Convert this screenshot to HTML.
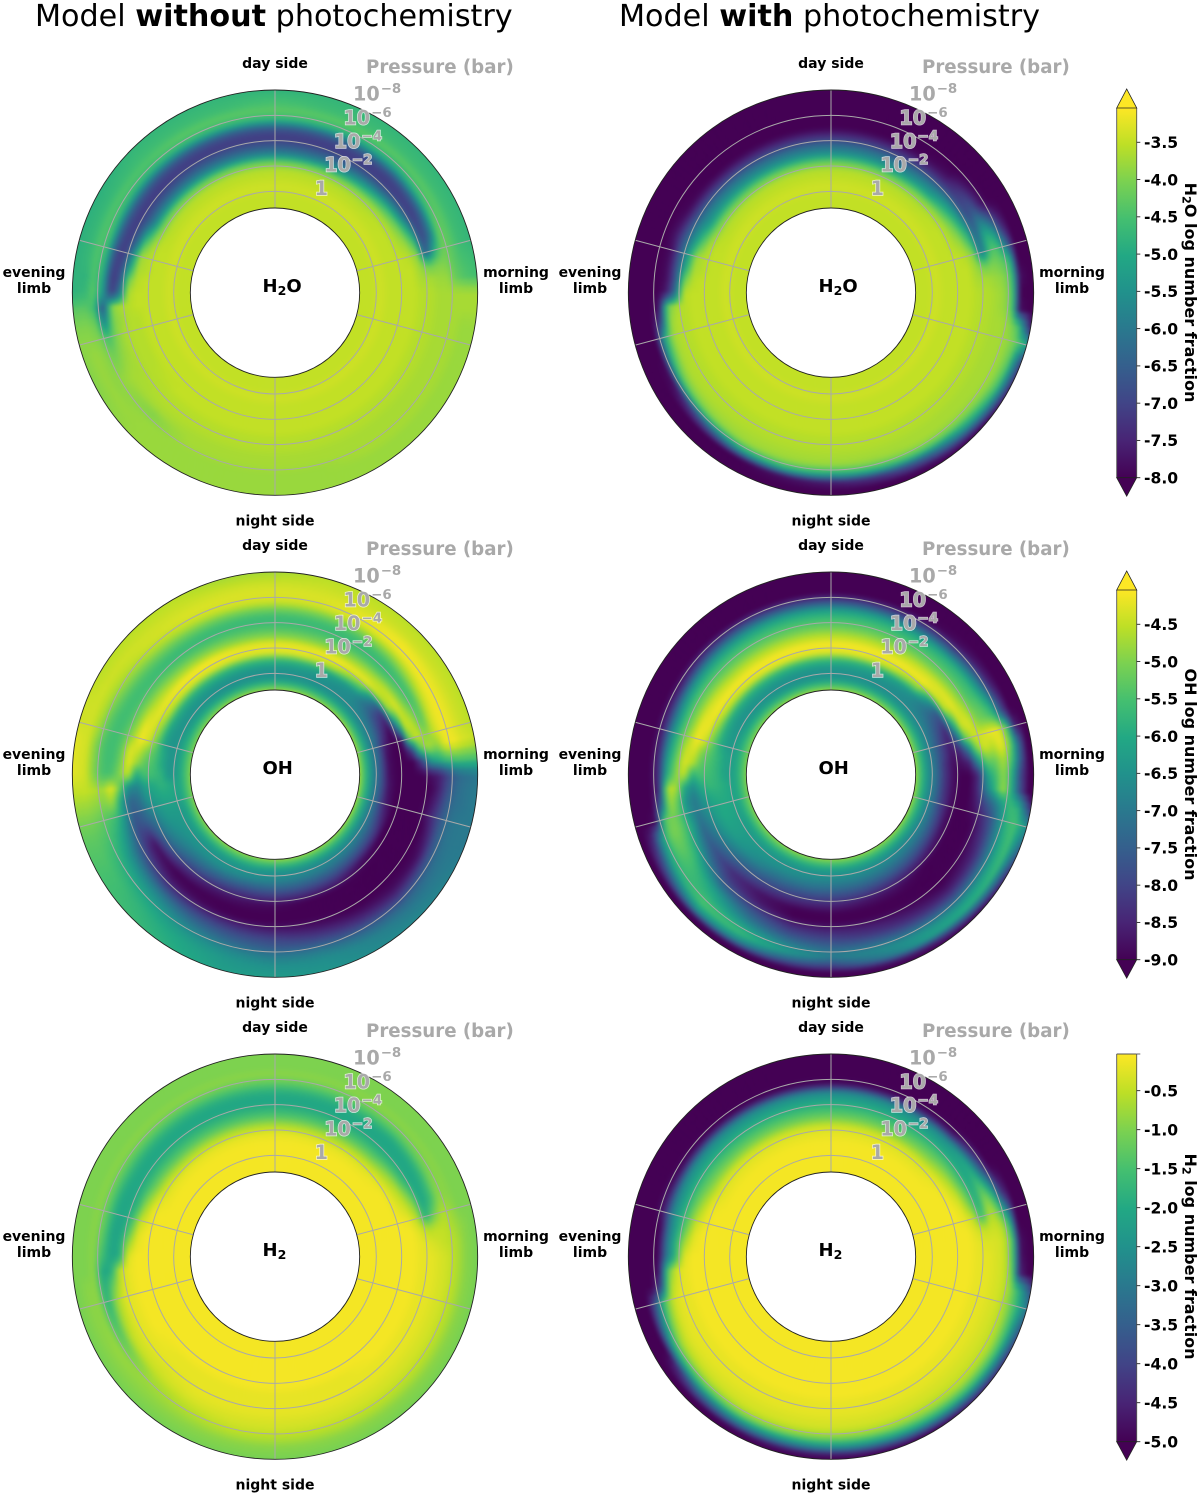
<!DOCTYPE html>
<html lang="en">
<head>
<meta charset="utf-8">
<title>Model without and with photochemistry</title>
<style>
html,body{margin:0;padding:0;background:#fff;}
#figure{display:block;width:1200px;height:1495px;}
text{font-family:"DejaVu Sans","Liberation Sans",sans-serif;}
</style>
</head>
<body>
<svg id="figure" xmlns="http://www.w3.org/2000/svg" width="1200" height="1495" viewBox="0 0 1200 1495">
  <text x="35" y="26" font-size="30.2" fill="#000">Model <tspan font-weight="700">without</tspan> photochemistry</text>
  <text x="619" y="26" font-size="30.2" fill="#000">Model <tspan font-weight="700">with</tspan> photochemistry</text>
  <defs>
    <linearGradient id="viridis-ramp" x1="0" y1="1" x2="0" y2="0"></linearGradient>
    <filter id="cell-smooth" x="-5%" y="-5%" width="110%" height="110%" color-interpolation-filters="sRGB">
      <feGaussianBlur stdDeviation="2"></feGaussianBlur>
    </filter>
  </defs>
  <g id="panels"></g>
  <g id="colorbars"></g>
</svg>
<script>
// Sampled longitudes (degrees clockwise from the sub-stellar point, top of each disc)
const longitudes = [0,15,30,45,60,70,75,80,85,90,95,100,105,110,120,135,150,165,180,195,210,225,240,250,255,260,265,270,275,280,285,290,300,315,330,345];
// Sampled pressure levels, log10(bar), deep to high altitude
const logPressures = [1,0.33,-0.33,-1,-1.67,-2.33,-3,-3.67,-4.33,-5,-5.67,-6.33,-7,-7.67];
// Each row = one longitude, each entry = -10 x log10(number fraction) at one pressure level
const h2oNoPhoto = [
[35,35,34,35,36,42,58,67,72,66,48,43,45,47],
[35,35,34,35,36,42,58,67,72,66,48,43,46,47],
[35,35,34,35,36,41,56,66,72,67,50,43,46,47],
[35,35,34,35,36,39,50,64,72,68,50,43,46,47],
[35,35,34,35,35,37,43,58,72,66,46,43,46,47],
[35,35,34,35,35,36,38,46,70,62,42,43,46,47],
[35,35,34,35,35,35,36,40,68,50,41,43,46,47],
[35,35,34,35,35,35,35,38,42,40,40,43,45,46],
[35,35,34,35,35,35,35,37,37,38,38,42,44,45],
[35,35,34,35,35,35,35,36,36,37,37,37,37,37],
[35,35,34,35,35,35,35,36,36,37,37,37,37,37],
[35,35,34,35,35,35,35,36,36,37,37,37,38,38],
[35,35,34,35,35,35,35,36,36,37,37,37,38,38],
[35,35,34,35,35,35,35,36,36,37,37,37,38,38],
[35,35,34,35,35,35,35,36,36,37,37,37,38,38],
[35,35,34,35,35,35,35,36,36,37,37,37,38,38],
[35,35,34,35,35,35,35,36,36,37,37,37,38,38],
[35,35,34,35,35,35,35,36,36,37,37,38,38,38],
[35,35,34,35,35,35,35,36,36,37,37,38,38,38],
[35,35,34,35,35,35,35,36,36,37,37,38,38,38],
[35,35,34,35,35,35,35,36,36,37,37,38,38,38],
[35,35,34,35,35,35,35,36,36,37,40,38,38,38],
[35,35,34,35,35,35,36,36,37,37,38,39,38,39],
[35,35,34,35,35,35,36,36,37,39,42,39,38,39],
[35,35,34,35,35,35,36,36,37,40,46,40,39,39],
[35,35,34,35,35,35,36,36,38,40,58,42,40,40],
[35,35,34,35,35,35,35,36,37,40,68,46,43,43],
[35,35,34,35,35,35,35,37,62,72,52,43,47,48],
[35,35,34,35,35,35,36,42,68,72,50,44,48,48],
[35,35,34,35,35,36,37,52,70,70,48,44,47,48],
[35,35,34,35,35,36,38,58,72,68,47,44,47,48],
[35,35,34,35,35,37,44,64,72,66,46,44,47,48],
[35,35,34,35,36,42,58,68,72,65,47,44,47,48],
[35,35,34,35,36,42,58,68,72,66,48,44,46,47],
[35,35,34,35,36,42,58,67,72,66,48,43,46,47],
[35,35,34,35,36,42,58,67,72,66,48,43,46,47]
];
const h2oWithPhoto = [
[35,35,34,35,36,42,55,63,73,80,80,80,80,80],
[35,35,34,35,36,42,55,63,73,80,80,80,80,80],
[35,35,34,35,36,42,55,63,73,80,80,80,80,80],
[35,35,34,35,36,40,52,60,72,78,80,80,80,80],
[35,35,34,35,35,37,43,54,69,66,76,80,80,80],
[35,35,34,35,35,36,38,46,64,48,52,70,80,80],
[35,35,34,35,35,35,36,40,62,44,45,60,80,80],
[35,35,34,35,35,35,35,38,42,40,42,46,80,80],
[35,35,34,35,35,35,35,37,37,38,39,44,78,80],
[35,35,34,35,35,35,35,36,36,37,38,43,80,80],
[35,35,34,35,35,35,35,36,36,37,38,42,78,80],
[35,35,34,35,35,35,35,36,36,37,37,39,44,65],
[35,35,34,35,35,35,35,36,36,37,37,38,41,48],
[35,35,34,35,35,35,35,36,36,37,37,38,42,60],
[35,35,34,35,35,35,35,36,36,37,37,38,44,64],
[35,35,34,35,35,35,35,36,36,37,37,40,52,72],
[35,35,34,35,35,35,35,36,36,37,37,42,64,78],
[35,35,34,35,35,35,35,36,36,37,38,46,72,80],
[35,35,34,35,35,35,35,36,36,37,38,50,76,80],
[35,35,34,35,35,35,35,36,36,37,38,48,78,80],
[35,35,34,35,35,35,35,36,36,37,38,52,80,80],
[35,35,34,35,35,35,35,36,36,37,40,65,80,80],
[35,35,34,35,35,35,35,36,36,37,44,78,80,80],
[35,35,34,35,35,35,35,36,36,38,50,80,80,80],
[35,35,34,35,35,35,35,36,36,38,52,80,80,80],
[35,35,34,35,35,35,35,36,36,39,70,80,80,80],
[35,35,34,35,35,35,35,36,37,42,78,80,80,80],
[35,35,34,35,35,35,35,36,62,76,80,80,80,80],
[35,35,34,35,35,35,36,42,66,78,80,80,80,80],
[35,35,34,35,35,36,37,50,66,78,80,80,80,80],
[35,35,34,35,35,36,38,52,66,78,80,80,80,80],
[35,35,34,35,35,37,44,56,66,76,80,80,80,80],
[35,35,34,35,36,41,53,60,70,79,80,80,80,80],
[35,35,34,35,36,42,54,62,72,80,80,80,80,80],
[35,35,34,35,36,42,55,63,73,80,80,80,80,80],
[35,35,34,35,36,42,55,63,73,80,80,80,80,80]
];
const ohNoPhoto = [
[54,65,65,58,43,42,50,55,57,52,44,43,44,46],
[54,65,65,59,43,42,50,55,57,52,44,43,44,45],
[54,65,66,62,46,41,49,55,57,52,43,42,44,45],
[54,65,67,66,54,42,47,55,57,50,42,41,44,45],
[54,66,70,78,82,48,43,52,56,46,41,42,44,45],
[54,66,72,82,90,72,44,46,54,44,41,42,44,45],
[54,66,74,86,90,88,50,44,50,45,41,42,44,45],
[54,66,74,88,90,90,80,52,46,50,42,41,43,44],
[54,66,75,88,90,90,90,80,64,60,56,54,54,54],
[54,66,75,88,90,90,90,90,88,86,80,74,72,71],
[54,66,75,87,90,90,90,90,90,86,78,73,71,70],
[54,66,75,87,90,90,90,90,89,84,76,72,71,70],
[54,66,75,86,90,90,90,90,88,82,75,71,70,70],
[54,66,74,84,90,90,90,90,90,84,75,71,70,70],
[54,66,72,80,90,90,90,90,90,88,78,72,70,69],
[54,65,70,78,88,90,90,90,90,88,82,74,70,68],
[54,65,69,76,84,90,90,90,90,86,80,73,68,67],
[54,65,68,75,83,90,90,90,88,83,77,70,66,65],
[54,65,67,74,82,89,90,90,86,80,76,70,66,64],
[54,64,66,74,82,88,90,90,84,78,73,67,64,63],
[54,64,65,72,80,87,90,89,82,75,69,64,61,60],
[54,64,65,70,76,84,90,87,80,70,64,60,58,57],
[54,63,64,66,70,78,88,82,74,66,60,57,55,55],
[54,63,63,63,66,72,76,78,68,60,56,54,53,53],
[54,62,62,62,64,68,74,76,64,56,54,52,51,51],
[54,62,60,60,62,65,72,74,62,48,50,49,48,48],
[54,62,60,58,60,62,68,66,52,42,48,46,45,45],
[54,62,65,58,56,55,60,44,50,55,55,50,44,43],
[54,62,65,60,55,53,48,42,52,56,55,50,44,43],
[54,62,65,60,54,50,44,43,53,56,55,50,44,43],
[54,62,65,62,52,44,41,48,54,56,54,48,44,44],
[54,62,65,62,50,43,42,50,55,56,53,47,44,44],
[54,63,65,60,46,42,46,52,56,55,50,46,44,45],
[54,64,65,59,44,41,48,54,57,53,47,44,44,45],
[54,65,65,58,43,41,49,55,57,52,45,43,44,45],
[54,65,65,58,43,42,50,55,57,52,44,43,44,46]
];
const ohWithPhoto = [
[54,65,65,58,43,41,46,52,56,62,78,90,90,90],
[54,65,65,59,43,41,46,52,56,62,78,90,90,90],
[54,65,66,61,45,41,46,52,56,62,78,90,90,90],
[54,65,67,65,50,41,44,51,55,60,76,88,90,90],
[54,65,69,74,76,46,42,48,54,57,68,84,90,90],
[54,65,71,78,85,66,44,43,50,52,56,76,90,90],
[54,65,72,80,86,76,52,44,44,42,42,52,85,90],
[54,65,72,80,87,85,72,50,43,46,41,50,72,90],
[54,65,72,82,88,88,85,66,52,52,46,54,74,90],
[54,65,72,82,88,90,90,84,62,56,48,60,80,90],
[54,65,72,82,88,90,90,84,68,58,47,60,78,90],
[54,65,72,82,88,90,90,86,78,72,64,56,58,74],
[54,65,72,81,88,90,90,88,84,78,68,58,55,62],
[54,65,71,80,88,90,90,90,86,80,70,60,55,66],
[54,65,70,78,87,90,90,90,88,84,74,63,56,74],
[54,65,69,76,84,90,90,90,90,86,78,66,58,80],
[54,64,68,74,82,88,90,90,88,84,76,65,62,86],
[54,64,67,73,80,87,90,90,86,82,74,66,70,88],
[54,64,67,72,79,85,90,90,85,80,74,68,78,90],
[54,64,66,71,78,84,90,90,84,78,70,62,74,90],
[54,64,65,70,76,82,88,86,78,72,64,56,66,90],
[54,63,64,66,72,78,84,80,72,62,58,54,64,90],
[54,63,62,62,66,72,76,68,58,54,55,60,76,90],
[54,62,61,60,63,68,72,62,54,50,52,66,84,90],
[54,62,60,60,62,66,70,64,54,50,54,88,90,90],
[54,62,60,59,60,64,70,65,52,47,76,90,90,90],
[54,62,60,58,57,60,66,60,46,46,84,90,90,90],
[54,62,62,58,56,55,58,44,50,60,84,90,90,90],
[54,62,62,58,55,53,46,43,52,62,84,90,90,90],
[54,62,62,58,54,50,43,45,54,64,84,90,90,90],
[54,62,64,60,52,44,41,48,55,66,84,90,90,90],
[54,62,64,60,50,42,42,50,56,68,84,90,90,90],
[54,63,65,60,46,41,44,51,56,66,84,90,90,90],
[54,64,65,59,44,41,46,52,56,64,80,90,90,90],
[54,65,65,58,43,41,46,52,56,63,78,90,90,90],
[54,65,65,58,43,41,46,52,56,62,78,90,90,90]
];
const h2NoPhoto = [
[1,1,1,1,2,6,13,18,21,19,13,9,10,10],
[1,1,1,1,2,6,13,18,21,19,13,9,10,10],
[1,1,1,1,2,6,13,18,21,19,13,9,10,10],
[1,1,1,1,2,5,12,18,21,20,13,9,10,10],
[1,1,1,1,1,3,7,16,21,19,11,9,10,10],
[1,1,1,1,1,2,4,9,21,17,9,9,10,10],
[1,1,1,1,1,1,2,6,19,11,6,8,10,10],
[1,1,1,1,1,1,1,3,6,5,5,7,9,10],
[1,1,1,1,1,1,1,2,3,4,5,6,9,10],
[1,1,1,1,1,1,1,2,2,3,4,6,9,10],
[1,1,1,1,1,1,1,2,2,3,4,6,9,10],
[1,1,1,1,1,1,1,2,2,3,4,6,9,10],
[1,1,1,1,1,1,1,2,2,3,4,6,9,10],
[1,1,1,1,1,1,1,2,2,3,4,6,9,10],
[1,1,1,1,1,1,1,2,2,3,4,6,9,10],
[1,1,1,1,1,1,1,2,2,3,4,6,9,10],
[1,1,1,1,1,1,2,2,2,3,4,6,9,10],
[1,1,1,1,1,1,2,2,2,3,4,6,9,10],
[1,1,1,1,1,1,2,2,2,3,4,6,9,10],
[1,1,1,1,1,1,2,2,2,3,4,6,9,10],
[1,1,1,1,1,1,2,2,2,3,5,7,9,10],
[1,1,1,1,1,1,2,2,3,4,7,8,9,10],
[1,1,1,1,1,1,1,2,3,5,13,8,9,10],
[1,1,1,1,1,1,1,2,3,7,17,9,9,10],
[1,1,1,1,1,1,1,2,3,8,19,9,9,10],
[1,1,1,1,1,1,1,2,4,12,20,9,9,10],
[1,1,1,1,1,1,1,2,5,19,21,9,10,10],
[1,1,1,1,1,1,1,3,20,21,16,9,10,10],
[1,1,1,1,1,1,2,8,20,21,14,9,10,10],
[1,1,1,1,1,1,3,13,21,21,13,9,10,10],
[1,1,1,1,1,2,5,16,21,20,13,9,10,10],
[1,1,1,1,1,2,8,18,21,20,13,9,10,10],
[1,1,1,1,2,5,12,18,21,19,13,9,10,10],
[1,1,1,1,2,6,13,18,21,19,13,9,10,10],
[1,1,1,1,2,6,13,18,21,19,13,9,10,10],
[1,1,1,1,2,6,13,18,21,19,13,9,10,10]
];
const h2WithPhoto = [
[1,1,1,1,2,4,11,16,21,27,49,50,50,50],
[1,1,1,1,2,4,11,16,21,27,49,50,50,50],
[1,1,1,1,2,4,11,16,21,27,49,50,50,50],
[1,1,1,1,2,4,10,15,21,26,48,50,50,50],
[1,1,1,1,1,2,6,14,21,18,35,50,50,50],
[1,1,1,1,1,1,3,10,20,8,16,40,50,50],
[1,1,1,1,1,1,2,5,17,5,10,26,50,50],
[1,1,1,1,1,1,1,3,5,4,5,15,50,50],
[1,1,1,1,1,1,1,2,3,3,4,11,48,50],
[1,1,1,1,1,1,1,2,2,3,4,12,48,50],
[1,1,1,1,1,1,1,2,2,3,4,10,45,50],
[1,1,1,1,1,1,1,2,2,3,4,8,17,30],
[1,1,1,1,1,1,1,2,2,3,4,8,15,25],
[1,1,1,1,1,1,1,2,2,3,4,7,15,28],
[1,1,1,1,1,1,1,2,2,3,4,6,14,32],
[1,1,1,1,1,1,1,2,2,3,4,6,15,35],
[1,1,1,1,1,1,1,2,2,3,4,8,18,40],
[1,1,1,1,1,1,1,2,2,3,4,9,22,43],
[1,1,1,1,1,1,1,2,2,3,4,10,24,46],
[1,1,1,1,1,1,1,2,2,3,4,10,26,47],
[1,1,1,1,1,1,1,2,2,3,4,10,28,49],
[1,1,1,1,1,1,1,2,2,3,5,14,34,50],
[1,1,1,1,1,1,1,2,2,3,7,20,50,50],
[1,1,1,1,1,1,1,2,2,4,12,30,50,50],
[1,1,1,1,1,1,1,2,2,5,15,36,50,50],
[1,1,1,1,1,1,1,2,3,8,40,50,50,50],
[1,1,1,1,1,1,1,2,4,14,48,50,50,50],
[1,1,1,1,1,1,1,3,18,30,50,50,50,50],
[1,1,1,1,1,1,2,7,18,30,50,50,50,50],
[1,1,1,1,1,1,3,11,20,30,50,50,50,50],
[1,1,1,1,1,2,5,13,20,28,46,50,50,50],
[1,1,1,1,1,2,7,14,21,28,46,50,50,50],
[1,1,1,1,2,4,10,15,21,27,48,50,50,50],
[1,1,1,1,2,4,11,16,21,27,49,50,50,50],
[1,1,1,1,2,4,11,16,21,27,49,50,50,50],
[1,1,1,1,2,4,11,16,21,27,49,50,50,50]
];
// Colour-bar tick labels
const h2oTicks = ["-3.5","-4.0","-4.5","-5.0","-5.5","-6.0","-6.5","-7.0","-7.5","-8.0"];
const ohTicks = ["-4.5","-5.0","-5.5","-6.0","-6.5","-7.0","-7.5","-8.0","-8.5","-9.0"];
const h2Ticks = ["-0.5","-1.0","-1.5","-2.0","-2.5","-3.0","-3.5","-4.0","-4.5","-5.0"];
const pressureTickExponents = ["-8","-6","-4","-2",""];
const pressureTickValues = [-8,-6,-4,-2,0];
const spokeLongitudes = [0,75,105,180,255,285];
const viridisStops = ["#440154","#482475","#414487","#355f8d","#2a788e","#21918c","#22a884","#44bf70","#7ad151","#bddf26","#fde725"];

const SVGNS = "http://www.w3.org/2000/svg";
const R_OUT = 202.67, R_IN = 84.67;
const rowCentersY = [292.67, 774.67, 1256.67];
const colCentersX = [275, 831];

function el(tag, attrs, parent, text) {
  const n = document.createElementNS(SVGNS, tag);
  for (const k in attrs) n.setAttribute(k, attrs[k]);
  if (text !== undefined) n.textContent = text;
  if (parent) parent.appendChild(n);
  return n;
}
function rScale(logP) { return 101.33 - 12.67 * logP; }
function polar(cx, cy, r, lon) {
  const a = lon * Math.PI / 180;
  return [cx + r * Math.sin(a), cy - r * Math.cos(a)];
}
function hexRgb(h) { return [1,3,5].map(i => parseInt(h.substr(i,2),16)); }
const stopRgb = viridisStops.map(hexRgb);
function viridis(t) {
  t = Math.max(0, Math.min(1, t)) * (stopRgb.length - 1);
  const i = Math.min(stopRgb.length - 2, Math.floor(t)), f = t - i;
  const c = stopRgb[i].map((v, k) => Math.round(v + (stopRgb[i + 1][k] - v) * f));
  return "rgb(" + c.join(",") + ")";
}
function sample(grid, lon, logP) {
  lon = ((lon % 360) + 360) % 360;
  let a = longitudes.length - 1, b = 0, la = longitudes[a], lb = 360;
  for (let i = 0; i < longitudes.length; i++) {
    const next = i + 1 < longitudes.length ? longitudes[i + 1] : 360;
    if (lon >= longitudes[i] && lon <= next) {
      a = i; b = (i + 1) % longitudes.length; la = longitudes[i]; lb = next; break;
    }
  }
  const ft = lb === la ? 0 : (lon - la) / (lb - la);
  let k = 0;
  const n = logPressures.length;
  if (logP >= logPressures[0]) { k = 0; }
  else if (logP <= logPressures[n - 1]) { k = n - 2; }
  else { while (k < n - 2 && logP < logPressures[k + 1]) k++; }
  const fr = (logPressures[k] - logP) / (logPressures[k] - logPressures[k + 1]);
  const va = grid[a][k] + (grid[a][k + 1] - grid[a][k]) * fr;
  const vb = grid[b][k] + (grid[b][k + 1] - grid[b][k]) * fr;
  return -(va + (vb - va) * ft) / 10;
}

// gradient stops for colour bars
const ramp = document.getElementById("viridis-ramp");
viridisStops.forEach((c, i) => {
  el("stop", {offset: (i / (viridisStops.length - 1)), "stop-color": c}, ramp);
});
const svgDefs = document.querySelector("#figure defs");

function drawPanel(root, cfg) {
  const g = el("g", {}, root);
  
  
  const clip = el("clipPath", {id: "clip-" + cfg.key}, svgDefs);
  el("circle", {cx: cfg.cx, cy: cfg.cy, r: R_OUT}, clip);
  const clipped = el("g", {"clip-path": "url(#clip-" + cfg.key + ")"}, g);
  
  
  const cells = el("g", {filter: "url(#cell-smooth)"}, clipped);
  
  
  const dLon = 2, stepR = 4;
  const rStart = R_IN - 8, rEnd = R_OUT + 10;
  for (let lon = 0; lon < 360; lon += dLon) {
    for (let r0 = rStart; r0 < rEnd; r0 += stepR) {
      const r1 = r0 + stepR;
      const logP = (101.33 - (r0 + r1) / 2) / 12.67;
      const v = sample(cfg.grid, lon + dLon / 2, logP);
      const col = viridis((v - cfg.vmin) / (cfg.vmax - cfg.vmin));
      const p = [polar(cfg.cx, cfg.cy, r0, lon), polar(cfg.cx, cfg.cy, r1, lon), polar(cfg.cx, cfg.cy, r1, lon + dLon), polar(cfg.cx, cfg.cy, r0, lon + dLon)];
      const d = "M" + p.map(q => q[0].toFixed(2) + " " + q[1].toFixed(2)).join("L") + "Z";
      const cell = el("path", {d: d, fill: col, stroke: col, "stroke-width": 0.6}, cells);
      
      
    }
  }
  // grid rings
  pressureTickValues.forEach((lp, i) => {
    if (i === 0) return;
    const ring = el("circle", {cx: cfg.cx, cy: cfg.cy, r: rScale(lp), fill: "none", stroke: "#a9a9a9", "stroke-width": 1}, g);
    
    
  });
  spokeLongitudes.forEach(lon => {
    const a = polar(cfg.cx, cfg.cy, R_IN, lon), b = polar(cfg.cx, cfg.cy, R_OUT, lon);
    const sp = el("line", {x1: a[0], y1: a[1], x2: b[0], y2: b[1], stroke: "#a9a9a9", "stroke-width": 1}, g);
    
    
  });
  const outer = el("circle", {cx: cfg.cx, cy: cfg.cy, r: R_OUT, fill: "none", stroke: "#222", "stroke-width": 0.9}, g);
  
  
  const inner = el("circle", {cx: cfg.cx, cy: cfg.cy, r: R_IN, fill: "#fff", stroke: "#222", "stroke-width": 0.9}, g);
  
  

  // species label in the centre
  const sp = el("text", {x: cfg.cx - 12.5, y: cfg.cy - 0.5, "font-size": 18, "font-weight": 700, fill: "#000"}, g);
  
  
  cfg.label.forEach(part => {
    el("tspan", part.sub ? {"font-size": 12.6, dy: 2.8} : {dy: part.after ? -2.8 : 0}, sp, part.t);
  });

  // side labels
  const sideFont = {"font-size": 14, "font-weight": 700, fill: "#000", "text-anchor": "middle"};
  const day = el("text", Object.assign({x: cfg.cx, y: cfg.cy - 224.5}, sideFont), g, "day side");
  
  
  const night = el("text", Object.assign({x: cfg.cx, y: cfg.cy + 233}, sideFont), g, "night side");
  
  
  const eve = el("text", Object.assign({x: cfg.cx - 241, y: cfg.cy - 15.5}, sideFont), g);
  
  
  el("tspan", {x: cfg.cx - 241, dy: 0}, eve, "evening");
  el("tspan", {x: cfg.cx - 241, dy: 16}, eve, "limb");
  const morn = el("text", Object.assign({x: cfg.cx + 241, y: cfg.cy - 15.5}, sideFont), g);
  
  
  el("tspan", {x: cfg.cx + 241, dy: 0}, morn, "morning");
  el("tspan", {x: cfg.cx + 241, dy: 16}, morn, "limb");

  // pressure axis
  const pt = el("text", {x: cfg.cx + 91, y: cfg.cy - 219.8, "font-size": 18.2, "font-weight": 700, fill: "#a9a9a9"}, g, "Pressure (bar)");
  
  
  pressureTickValues.forEach((lp, i) => {
    const x = cfg.cx + 78 - i * 9.6;
    const y = cfg.cy - 192 + i * 23.6;
    const attrs = {x: x, y: y, "font-size": 19.2, "font-weight": 700, fill: "#a9a9a9"};
    if (i > 0) {
      attrs.stroke = "#fff"; attrs["stroke-width"] = 1.4; attrs["paint-order"] = "stroke"; attrs["stroke-opacity"] = 0.75;
    }
    const t = el("text", attrs, g);
    
    
    if (pressureTickExponents[i] === "") {
      el("tspan", {}, t, "1");
    } else {
      el("tspan", {}, t, "10");
      el("tspan", {"font-size": 13.4, dy: -7.5, dx: 1}, t, pressureTickExponents[i].replace("-", "\u2212"));
    }
  });
}

function drawColorbar(root, cfg) {
  const g = el("g", {}, root);
  
  
  const x0 = 1116.7, x1 = 1136.7;
  const bar = el("rect", {x: x0, y: cfg.top, width: x1 - x0, height: cfg.bottom - cfg.top, fill: "url(#viridis-ramp)"}, g);
  
  
  const sides = "M" + x0 + " " + cfg.top + "L" + x0 + " " + cfg.bottom + "M" + x1 + " " + cfg.top + "L" + x1 + " " + cfg.bottom + (cfg.topArrow ? "" : "M" + x0 + " " + cfg.top + "L" + x1 + " " + cfg.top);
  const frame = el("path", {d: sides, fill: "none", stroke: "#555", "stroke-width": 0.9}, g);
  
  
  const xm = (x0 + x1) / 2;
  if (cfg.topArrow) {
    const up = el("path", {d: "M" + x0 + " " + cfg.top + "L" + xm + " " + (cfg.top - 19) + "L" + x1 + " " + cfg.top + "Z", fill: "#fde725", stroke: "#222", "stroke-width": 0.8}, g);
    
    
  }
  const down = el("path", {d: "M" + x0 + " " + cfg.bottom + "L" + xm + " " + (cfg.bottom + 18.5) + "L" + x1 + " " + cfg.bottom + "Z", fill: "#440154", stroke: "#222", "stroke-width": 0.8}, g);
  
  
  const yOf = v => cfg.bottom - (v - cfg.vmin) / (cfg.vmax - cfg.vmin) * (cfg.bottom - cfg.top);
  cfg.ticks.forEach(lbl => {
    const y = yOf(parseFloat(lbl));
    const tk = el("line", {x1: x1, x2: x1 + 3.6, y1: y, y2: y, stroke: "#222", "stroke-width": 0.9}, g);
    
    
    const t = el("text", {x: x1 + 7.3, y: y + 5.8, "font-size": 15.6, "font-weight": 700, fill: "#000"}, g, lbl);
    
    
  });
  if (!cfg.topArrow) {
    const tk = el("line", {x1: x1, x2: x1 + 3.6, y1: cfg.top, y2: cfg.top, stroke: "#555", "stroke-width": 0.9}, g);
    
    
  }
  const lab = el("text", {transform: "translate(1185," + cfg.labelY + ") rotate(90)", "font-size": 16, "font-weight": 700, "text-anchor": "middle", fill: "#000"}, g);
  
  
  cfg.label.forEach(part => {
    el("tspan", part.sub ? {"font-size": 11.2, dy: 2.5} : {dy: part.after ? -2.5 : 0}, lab, part.t);
  });
}

const panelRoot = document.getElementById("panels");
const barRoot = document.getElementById("colorbars");
const h2oLabel = [{t:"H"},{t:"2",sub:true},{t:"O",after:true}];
const ohLabel = [{t:"OH"}];
const h2Label = [{t:"H"},{t:"2",sub:true}];
const panelConfigs = [
  {key:"h2o-no-photochemistry", grid:h2oNoPhoto, cx:colCentersX[0], cy:rowCentersY[0], vmin:-8, vmax:-3.04, label:h2oLabel},
  {key:"h2o-photochemistry", grid:h2oWithPhoto, cx:colCentersX[1], cy:rowCentersY[0], vmin:-8, vmax:-3.04, label:h2oLabel},
  {key:"oh-no-photochemistry", grid:ohNoPhoto, cx:colCentersX[0], cy:rowCentersY[1], vmin:-9, vmax:-4.04, label:ohLabel},
  {key:"oh-photochemistry", grid:ohWithPhoto, cx:colCentersX[1], cy:rowCentersY[1], vmin:-9, vmax:-4.04, label:ohLabel},
  {key:"h2-no-photochemistry", grid:h2NoPhoto, cx:colCentersX[0], cy:rowCentersY[2], vmin:-5, vmax:-0.03, label:h2Label},
  {key:"h2-photochemistry", grid:h2WithPhoto, cx:colCentersX[1], cy:rowCentersY[2], vmin:-5, vmax:-0.03, label:h2Label}
];
panelConfigs.forEach(c => drawPanel(panelRoot, c));
drawColorbar(barRoot, {key:"h2o", top:108, bottom:477.7, vmin:-8, vmax:-3.04, ticks:h2oTicks, topArrow:true, labelY:292.5,
  label:[{t:"H"},{t:"2",sub:true},{t:"O log number fraction",after:true}]});
drawColorbar(barRoot, {key:"oh", top:590, bottom:959.7, vmin:-9, vmax:-4.04, ticks:ohTicks, topArrow:true, labelY:774.5,
  label:[{t:"OH log number fraction"}]});
drawColorbar(barRoot, {key:"h2", top:1054, bottom:1441.7, vmin:-5, vmax:-0.03, ticks:h2Ticks, topArrow:false, labelY:1256.5,
  label:[{t:"H"},{t:"2",sub:true},{t:" log number fraction",after:true}]});
</script>
</body>
</html>
